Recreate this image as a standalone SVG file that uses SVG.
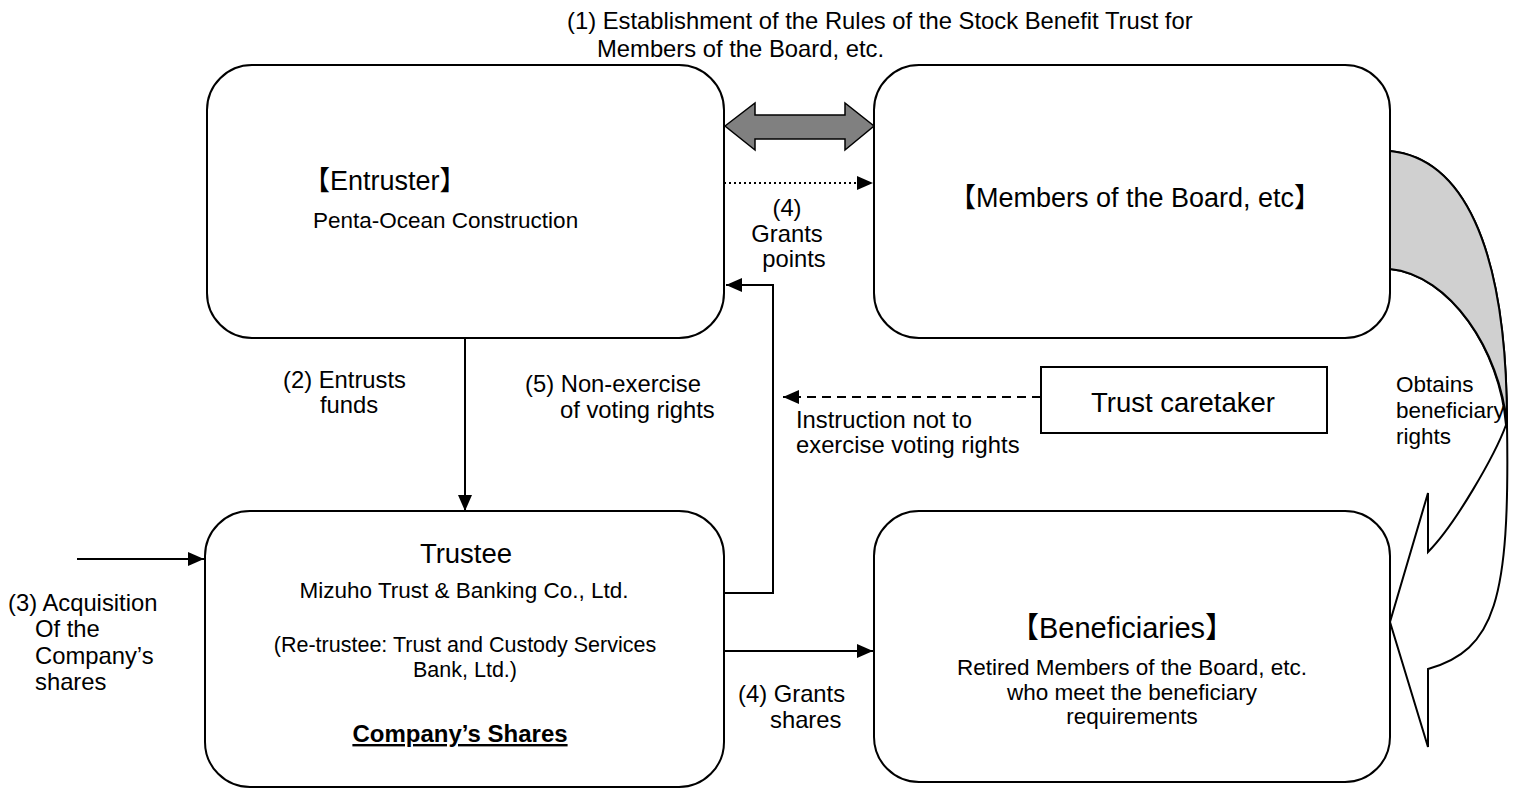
<svg xmlns="http://www.w3.org/2000/svg" width="1514" height="789" viewBox="0 0 1514 789">
<defs>
<marker id="ah" markerUnits="userSpaceOnUse" markerWidth="16" markerHeight="14" refX="16" refY="7" orient="auto">
<path d="M0,0 L16,7 L0,14 z" fill="#000"/>
</marker>
<style>
.box{fill:#fff;stroke:#000;stroke-width:2}
.t{font-family:"Liberation Sans",Arial,"Noto Sans CJK JP",sans-serif;font-size:22.5px;fill:#000}
.lb{font-size:23.8px}
.big{font-size:27.5px}
.ttl{font-family:"Liberation Sans","Noto Sans CJK JP",sans-serif;font-size:27px}
.c{text-anchor:middle}
.ln{fill:none;stroke:#000;stroke-width:2}
</style>
</defs>
<rect width="1514" height="789" fill="#fff"/>

<g id="label1">
<text class="t lb" x="567" y="29">(1) Establishment of the Rules of the Stock Benefit Trust for</text>
<text class="t lb" x="597" y="57">Members of the Board, etc.</text>
</g>

<g id="entruster">
<rect class="box" x="207" y="65" width="517" height="273" rx="45"/>
<text class="t ttl" x="303" y="190">【Entruster】</text>
<text class="t" x="313" y="228">Penta-Ocean Construction</text>
</g>

<g id="members">
<rect class="box" x="874" y="65" width="516" height="273" rx="45"/>
<text class="t ttl c" x="1135" y="207">【Members of the Board, etc】</text>
</g>

<g id="trustee">
<rect class="box" x="205" y="511" width="519" height="276" rx="45"/>
<text class="t big c" x="466" y="563">Trustee</text>
<text class="t c" x="464" y="598">Mizuho Trust &amp; Banking Co., Ltd.</text>
<text class="t c" x="465" y="652" style="font-size:21.5px">(Re-trustee: Trust and Custody Services</text>
<text class="t c" x="465" y="677" style="font-size:21.5px">Bank, Ltd.)</text>
<text class="t c" x="460" y="742" style="font-size:24px;font-weight:bold;text-decoration:underline">Company’s Shares</text>
</g>

<g id="beneficiaries">
<rect class="box" x="874" y="511" width="516" height="271" rx="45"/>
<text class="t ttl c" x="1122" y="638" style="font-size:29px">【Beneficiaries】</text>
<text class="t c" x="1132" y="675">Retired Members of the Board, etc.</text>
<text class="t c" x="1132" y="700">who meet the beneficiary</text>
<text class="t c" x="1132" y="724">requirements</text>
</g>

<g id="caretaker">
<rect x="1041" y="367" width="286" height="66" fill="#fff" stroke="#000" stroke-width="2"/>
<text class="t c" x="1183" y="412" style="font-size:27.5px">Trust caretaker</text>
</g>

<g id="connectors">
<polygon points="725,126 755,103 755,115 845,115 845,103 874,126 845,150 845,139 755,139 755,150" fill="#808080" stroke="#000" stroke-width="1.5"/>
<line x1="724" y1="183" x2="873" y2="183" stroke="#000" stroke-width="2" stroke-dasharray="2 3" marker-end="url(#ah)"/>
<line class="ln" x1="465" y1="338" x2="465" y2="511" marker-end="url(#ah)"/>
<polyline class="ln" points="724,593 773,593 773,285 726,285" marker-end="url(#ah)"/>
<line class="ln" x1="724" y1="651" x2="873" y2="651" marker-end="url(#ah)"/>
<line class="ln" x1="77" y1="559" x2="204" y2="559" marker-end="url(#ah)"/>
<line x1="1041" y1="397" x2="783" y2="397" stroke="#000" stroke-width="2" stroke-dasharray="9 6" marker-end="url(#ah)"/>
<path d="M1390,151 C1460,158 1507,240 1507,425 C1510,600 1495,650 1428,669 L1428,747 L1390,622 L1428,493 L1428,552 C1455,525 1495,455 1506,425 C1500,350 1450,275 1390,269" fill="#fff" stroke="#000" stroke-width="2" stroke-linejoin="miter"/>
<path d="M1390,151 C1460,158 1507,240 1507,425 C1500,350 1450,275 1390,269 Z" fill="#d0d0d0" stroke="#000" stroke-width="2"/>
</g>

<g id="labels">
<text class="t lb c" x="787" y="216">(4)</text>
<text class="t lb c" x="787" y="242">Grants</text>
<text class="t lb c" x="794" y="267">points</text>
<text class="t lb" x="283" y="388">(2) Entrusts</text>
<text class="t lb" x="320" y="413">funds</text>
<text class="t lb" x="525" y="392">(5) Non-exercise</text>
<text class="t lb" x="560" y="418">of voting rights</text>
<text class="t lb" x="796" y="428">Instruction not to</text>
<text class="t lb" x="796" y="453">exercise voting rights</text>
<text class="t" x="1396" y="392">Obtains</text>
<text class="t" x="1396" y="418">beneficiary</text>
<text class="t" x="1396" y="444">rights</text>
<text class="t lb" x="738" y="702">(4) Grants</text>
<text class="t lb" x="770" y="728">shares</text>
<text class="t lb" x="8" y="611">(3) Acquisition</text>
<text class="t lb" x="35" y="637">Of the</text>
<text class="t lb" x="35" y="664">Company’s</text>
<text class="t lb" x="35" y="690">shares</text>
</g>
</svg>
